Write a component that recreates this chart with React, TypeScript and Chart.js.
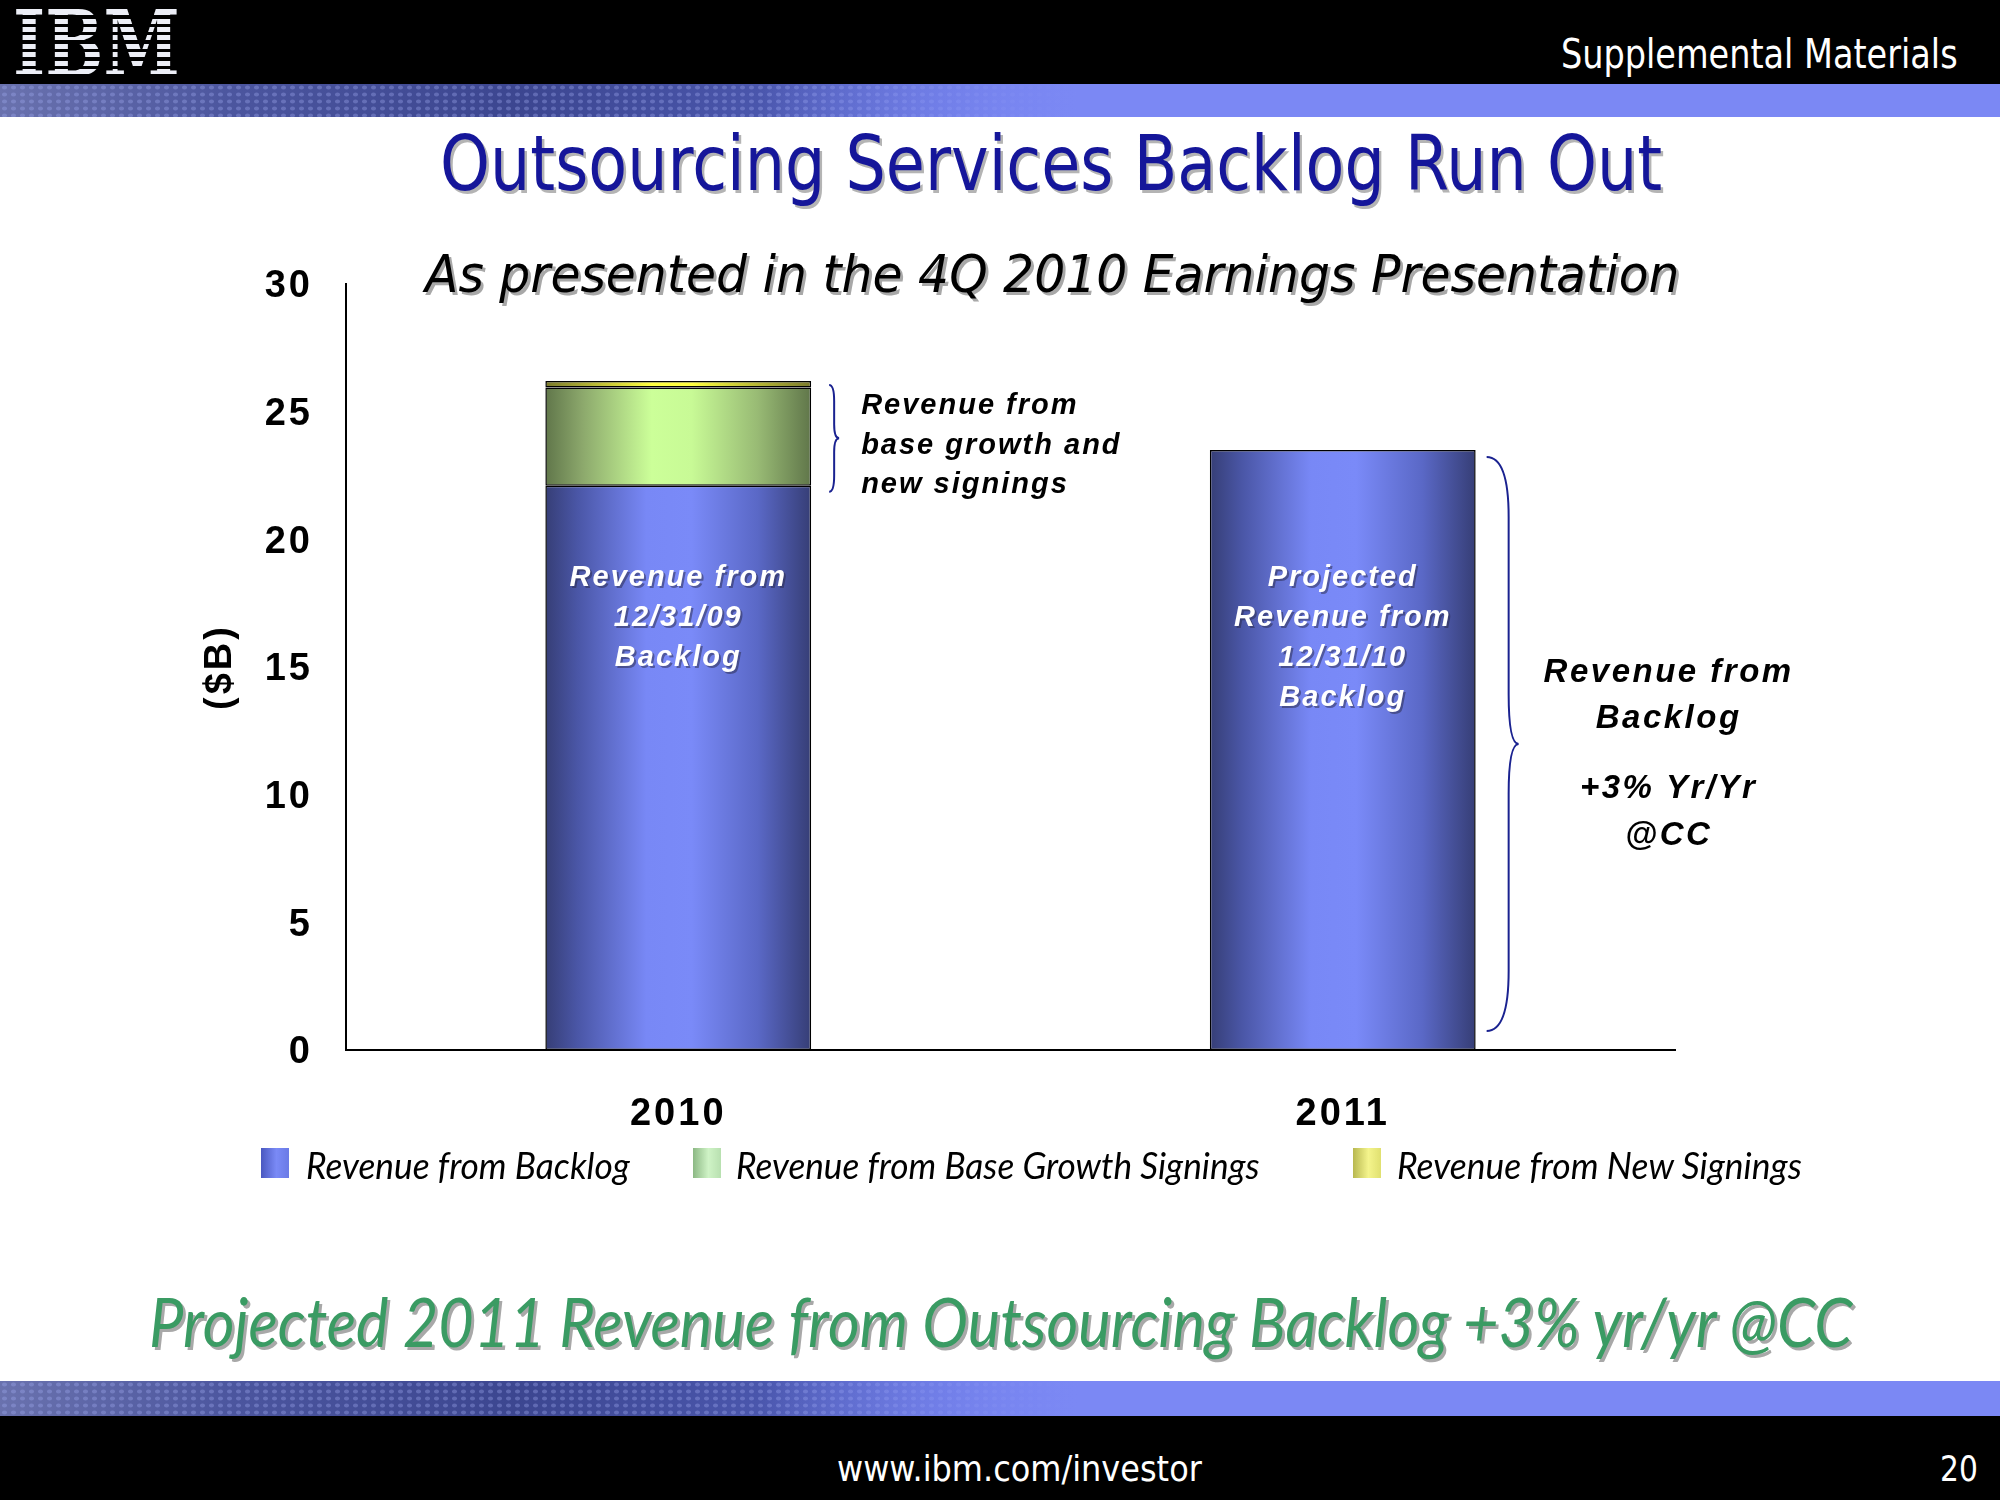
import React, { useEffect, useLayoutEffect, useRef, useState } from 'react';
import { Chart, registerables } from 'chart.js';

Chart.register(...registerables);

// ---------------- DATA ----------------
const categories = ['2010', '2011'];
const backlogRevenue = [22.1, 23.5];
const baseGrowthRevenue = [3.85, 0];
const newSigningsRevenue = [0.25, 0];
const seriesNames = [
  'Revenue from Backlog',
  'Revenue from Base Growth Signings',
  'Revenue from New Signings',
];
const yTickValues = [0, 5, 10, 15, 20, 25, 30];
const yAxisLabel = '($B)';

const headerText = 'Supplemental Materials';
const titleText = 'Outsourcing Services Backlog Run Out';
const subtitleText = 'As presented in the 4Q 2010 Earnings Presentation';
const takeawayText = 'Projected 2011 Revenue from Outsourcing Backlog +3% yr/yr @CC';
const footerUrl = 'www.ibm.com/investor';
const pageNumber = '20';

const bar2010Note = ['Revenue from', '12/31/09', 'Backlog'];
const bar2011Note = ['Projected', 'Revenue from', '12/31/10', 'Backlog'];
const growthNote = ['Revenue from', 'base growth and', 'new signings'];
const backlogNote = ['Revenue from', 'Backlog'];
const growthRateNote = ['+3% Yr/Yr', '@CC'];

// ---------------- STYLES / LAYOUT ----------------
const BLUE_STOPS: [number, string][] = [
  [0, '#363E76'], [0.12, '#4A56A6'], [0.38, '#7888F6'], [0.55, '#7A8AF8'], [0.8, '#5A68C6'], [1, '#363E76'],
];
const GREEN_STOPS: [number, string][] = [
  [0, '#60764A'], [0.14, '#8CA86C'], [0.4, '#CCFF99'], [0.55, '#C8FA96'], [0.8, '#98BA74'], [1, '#60764A'],
];
const YELLOW_STOPS: [number, string][] = [
  [0, '#7A7A2C'], [0.4, '#FFFF40'], [0.55, '#FFFF40'], [1, '#7A7A2C'],
];
const LEGEND_SWATCH = [
  'linear-gradient(to right, #4A58C0, #7A8AF6 55%, #6A7AE6)',
  'linear-gradient(to right, #8CB884, #CFF3C6 55%, #B8E0B0)',
  'linear-gradient(to right, #B8B850, #F4F48C 55%, #E0E070)',
];
const legendSwatchX = [261, 693, 1353];
const legendTextX = [306, 736, 1397];
const legendTextW = [324, 524, 405];

const BAR_FRACTION = 0.4;
const AXIS_FONT = { family: '"Liberation Sans", Arial, sans-serif', weight: 'bold', size: 38 };

function gradientFor(stops: [number, string][]) {
  return (c: any) => {
    const chart = c.chart;
    const xs = chart.scales?.x;
    if (!xs || !chart.chartArea || c.dataIndex === undefined) return stops[2][1];
    const cx = xs.getPixelForValue(c.dataIndex);
    const half = ((xs.width / categories.length) * BAR_FRACTION) / 2;
    const g = chart.ctx.createLinearGradient(cx - half, 0, cx + half, 0);
    stops.forEach(([o, col]) => g.addColorStop(o, col));
    return g;
  };
}

function drawBrace(
  ctx: CanvasRenderingContext2D, x: number, y1: number, y2: number,
  stemDx: number, tipDx: number, rEnd: number, rTip: number,
) {
  const ym = (y1 + y2) / 2;
  const sx = x + stemDx;
  ctx.beginPath();
  ctx.moveTo(x, y1);
  ctx.quadraticCurveTo(sx, y1, sx, y1 + rEnd);
  ctx.lineTo(sx, ym - rTip);
  ctx.quadraticCurveTo(sx, ym, x + tipDx, ym);
  ctx.quadraticCurveTo(sx, ym, sx, ym + rTip);
  ctx.lineTo(sx, y2 - rEnd);
  ctx.quadraticCurveTo(sx, y2, x, y2);
  ctx.stroke();
}

const annotationPlugin = {
  id: 'slideAnnotations',
  beforeDraw(chart: any) {
    chart.ctx.letterSpacing = '3px';
  },
  afterDatasetsDraw(chart: any) {
    const ctx: CanvasRenderingContext2D = chart.ctx;
    const ys = chart.scales.y;
    const bars = chart.getDatasetMeta(0).data;
    const b1 = bars[0];
    const b2 = bars[1];
    const right1 = b1.x + b1.width / 2;
    const right2 = b2.x + b2.width / 2;

    ctx.save();
    ctx.strokeStyle = '#1A2290';
    ctx.lineWidth = 2;

    // small brace at 2010 (growth + signings)
    const total2010 = backlogRevenue[0] + baseGrowthRevenue[0] + newSigningsRevenue[0];
    const sTop = ys.getPixelForValue(total2010) + 4;
    const sBot = ys.getPixelForValue(backlogRevenue[0]) + 6;
    drawBrace(ctx, right1 + 18, sTop, sBot, 5, 10, 16, 14);

    // large brace at 2011 (backlog)
    const lTop = ys.getPixelForValue(backlogRevenue[1]) + 7;
    const lBot = ys.getPixelForValue(0) - 19;
    drawBrace(ctx, right2 + 11, lTop, lBot, 22, 32, 60, 50);

    ctx.textBaseline = 'middle';

    // note next to small brace
    ctx.fillStyle = '#000';
    ctx.font = 'italic bold 29px "Liberation Sans", Arial, sans-serif';
    ctx.letterSpacing = '2px';
    ctx.textAlign = 'left';
    const sMid = (sTop + sBot) / 2;
    growthNote.forEach((t, i) => ctx.fillText(t, right1 + 50, sMid - 32 + i * 39.5));

    // note next to large brace
    const lMid = (lTop + lBot) / 2;
    ctx.font = 'italic bold 33px "Liberation Sans", Arial, sans-serif';
    ctx.letterSpacing = '2.5px';
    ctx.textAlign = 'center';
    const nx = right2 + 193;
    backlogNote.forEach((t, i) => ctx.fillText(t, nx, lMid - 71 + i * 46));
    growthRateNote.forEach((t, i) => ctx.fillText(t, nx, lMid + 45 + i * 47));

    // in-bar notes
    ctx.font = 'italic bold 29px "Liberation Sans", Arial, sans-serif';
    ctx.letterSpacing = '2px';
    ctx.textAlign = 'center';
    const noteTop = ys.getPixelForValue(18.5);
    const drawNote = (lines: string[], cx: number) => {
      lines.forEach((t, i) => {
        ctx.fillStyle = 'rgba(40,40,70,0.5)';
        ctx.fillText(t, cx + 2, noteTop + i * 40 + 2);
        ctx.fillStyle = '#FFFFFF';
        ctx.fillText(t, cx, noteTop + i * 40);
      });
    };
    drawNote(bar2010Note, b1.x);
    drawNote(bar2011Note, b2.x);
    ctx.restore();
  },
};

function FitText(props: {
  text: string; left: number; width: number; cy: number; font: string;
  color: string; shadow?: string;
}) {
  const ref = useRef<HTMLSpanElement>(null);
  const [sx, setSx] = useState(1);
  useLayoutEffect(() => {
    const el = ref.current;
    if (!el) return;
    const w = el.offsetWidth;
    if (w > 0) setSx(props.width / w);
  }, [props.text, props.width, props.font]);
  return (
    <span
      ref={ref}
      style={{
        position: 'absolute',
        left: props.left,
        top: props.cy,
        whiteSpace: 'nowrap',
        font: props.font,
        lineHeight: 1,
        color: props.color,
        textShadow: props.shadow,
        transform: `translateY(-50%) scaleX(${sx})`,
        transformOrigin: '0 50%',
        display: 'inline-block',
      }}
    >
      {props.text}
    </span>
  );
}

const bandBackground = [
  'linear-gradient(to right, rgba(123,136,244,0) 0%, rgba(123,136,244,0) 38%, rgba(123,136,244,1) 54%)',
  'radial-gradient(ellipse at 50% 50%, rgba(160,170,240,0.35) 0 2px, rgba(0,0,0,0) 3px)',
  'linear-gradient(100deg, #6A72AE 0%, #4B559E 12%, #3C4690 26%, #4A56AC 38%, #6472D8 47%, #7B88F4 55%)',
].join(',');

// chart canvas placement: chart area spans x 346..1675, y 284..1050 on the page
const CANVAS_LEFT = 150;
const CANVAS_TOP = 224;
const CANVAS_W = 1720;
const CANVAS_H = 936;

function ChartCanvas() {
  const ref = useRef<HTMLCanvasElement>(null);
  useEffect(() => {
    if (!ref.current) return;
    const chart = new Chart(ref.current, {
      type: 'bar',
      data: {
        labels: categories,
        datasets: [
          { label: seriesNames[0], data: backlogRevenue, backgroundColor: gradientFor(BLUE_STOPS) as any },
          { label: seriesNames[1], data: baseGrowthRevenue, backgroundColor: gradientFor(GREEN_STOPS) as any },
          { label: seriesNames[2], data: newSigningsRevenue, backgroundColor: gradientFor(YELLOW_STOPS) as any },
        ].map((d) => ({
          ...d,
          borderColor: '#000000',
          borderWidth: 1.5,
          borderSkipped: false,
          categoryPercentage: 0.8,
          barPercentage: BAR_FRACTION / 0.8,
        })),
      },
      options: {
        responsive: false,
        animation: false,
        events: [],
        layout: { padding: { top: 60, right: 195, bottom: 0, left: 0 } },
        plugins: { legend: { display: false }, tooltip: { enabled: false }, title: { display: false } },
        scales: {
          x: {
            stacked: true,
            grid: { display: false, drawTicks: false },
            border: { display: true, color: '#000000', width: 2 },
            ticks: { color: '#000000', padding: 42, font: AXIS_FONT },
            afterFit: (s: any) => { s.height = 110; },
          },
          y: {
            stacked: true,
            min: 0,
            max: 30,
            grid: { display: false, drawTicks: false },
            border: { display: true, color: '#000000', width: 2 },
            afterBuildTicks: (s: any) => { s.ticks = yTickValues.map((v) => ({ value: v })); },
            ticks: { color: '#000000', padding: 33, labelOffset: 3, font: AXIS_FONT },
            title: {
              display: true,
              text: yAxisLabel,
              color: '#000000',
              padding: { top: 48, bottom: 0 },
              font: AXIS_FONT,
            },
            afterFit: (s: any) => { s.width = 196; },
          },
        },
      } as any,
      plugins: [annotationPlugin],
    });
    return () => chart.destroy();
  }, []);
  return (
    <canvas
      ref={ref}
      width={CANVAS_W}
      height={CANVAS_H}
      style={{ position: 'absolute', left: CANVAS_LEFT, top: CANVAS_TOP, width: CANVAS_W, height: CANVAS_H }}
    />
  );
}

export default function App() {
  const tahoma = '"DejaVu Sans", Verdana, sans-serif';
  const gill = 'Lato, "Open Sans", sans-serif';
  return (
    <div style={{ position: 'absolute', left: 0, top: 0, width: 2000, height: 1500, background: '#FFFFFF', overflow: 'hidden' }}>
      {/* header */}
      <div style={{ position: 'absolute', left: 0, top: 0, width: 2000, height: 84, background: '#000000' }} />
      <div style={{ position: 'absolute', left: 0, top: 84, width: 2000, height: 33, background: bandBackground, backgroundSize: 'auto, 9px 7px, auto' }} />
      {/* IBM logo */}
      <FitText text="IBM" left={13} width={167} cy={44} font={`bold 92px "DejaVu Serif", serif`} color="#ECEEF6" />
      <div
        style={{
          position: 'absolute', left: 10, top: 10, width: 175, height: 68,
          background: 'repeating-linear-gradient(to bottom, rgba(0,0,0,0) 0px, rgba(0,0,0,0) 5px, #000000 5px, #000000 8.5px)',
        }}
      />
      <FitText text={headerText} left={1561} width={397} cy={54} font={`40px ${tahoma}`} color="#FFFFFF" />

      {/* titles */}
      <FitText text={titleText} left={440} width={1222} cy={163} font={`77px ${tahoma}`} color="#15169A" shadow="3px 3px 0 #B4B4B4" />
      <FitText text={subtitleText} left={425} width={1254} cy={274} font={`italic 52px ${tahoma}`} color="#000000" shadow="3px 3px 0 #A8A8A8" />

      <ChartCanvas />

      {/* legend */}
      {seriesNames.map((name, i) => (
        <React.Fragment key={name}>
          <div style={{ position: 'absolute', left: legendSwatchX[i], top: 1148, width: 28, height: 30, background: LEGEND_SWATCH[i] }} />
          <FitText text={name} left={legendTextX[i]} width={legendTextW[i]} cy={1164} font={`italic 37px ${gill}`} color="#000000" />
        </React.Fragment>
      ))}

      {/* takeaway */}
      <FitText text={takeawayText} left={149} width={1704} cy={1321} font={`italic 67px ${gill}`} color="#3A9B63" shadow="3px 3px 0 #A8A8A8" />

      {/* footer */}
      <div style={{ position: 'absolute', left: 0, top: 1381, width: 2000, height: 35, background: bandBackground, backgroundSize: 'auto, 9px 7px, auto' }} />
      <div style={{ position: 'absolute', left: 0, top: 1416, width: 2000, height: 84, background: '#000000' }} />
      <FitText text={footerUrl} left={837} width={365} cy={1469} font={`36px ${tahoma}`} color="#FFFFFF" />
      <FitText text={pageNumber} left={1940} width={38} cy={1469} font={`36px ${tahoma}`} color="#FFFFFF" />
    </div>
  );
}
